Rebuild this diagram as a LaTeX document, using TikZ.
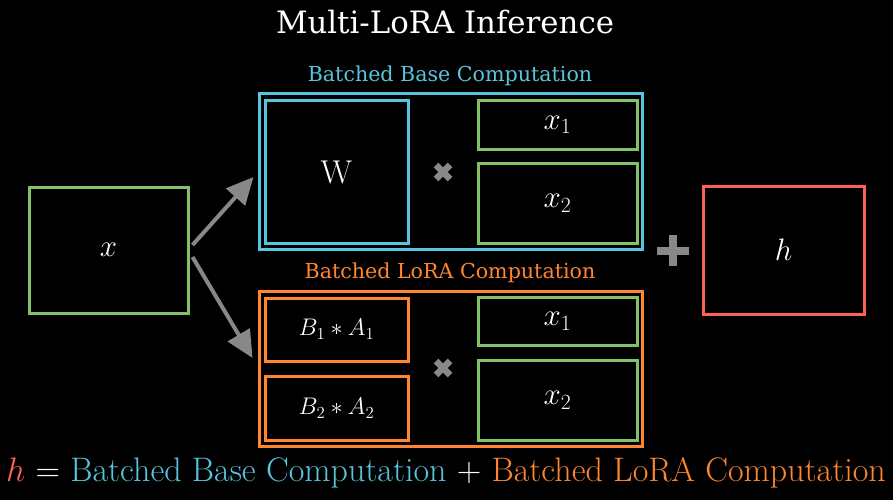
\RequirePackage{fix-cm}
\documentclass[tikz,border=0pt]{standalone}
\usepackage{fontspec}
\newfontfamily\labelfont{DejaVu Serif}
\usetikzlibrary{arrows.meta, calc}
\definecolor{mblue}{HTML}{58C4DD}
\definecolor{morange}{HTML}{FF862F}
\definecolor{mgreen}{HTML}{83C167}
\definecolor{mred}{HTML}{FC6255}
\definecolor{mgray}{HTML}{888888}
\tikzset{
  box/.style={rectangle, draw, line width=3pt, inner sep=0pt,
    text=white, font=\fontsize{31}{34}\selectfont},
  vecbox/.style={box, draw=mgreen, minimum width=159pt},
  loramat/.style={box, draw=morange, minimum width=143pt,
    font=\fontsize{24}{26}\selectfont},
  grouplabel/.style={font=\labelfont\fontsize{20.6}{24}\selectfont},
  flow/.style={-{Triangle[length=27pt, width=25pt]}, line width=4pt, color=mgray},
  opsign/.style={line width=6.5pt, color=mgray}
}
\begin{document}
\begin{tikzpicture}[x=1pt, y=-1pt]
  \fill[black] (0,0) rectangle (893,500);
  \useasboundingbox (0,0) rectangle (893,500);

  % Title
  \node[text=white, font=\labelfont\fontsize{30.8}{34}\selectfont] (title) at (445,22) {Multi-LoRA Inference};

  % Input and output
  \node[box, draw=mgreen, minimum width=159pt, minimum height=126pt] (xin) at (108.5,250) {$x$};
  \node[box, draw=mred, minimum width=161pt, minimum height=128pt] (hout) at (783.5,250) {$h$};

  % Batched base computation
  \node[box, draw=mblue, minimum width=383pt, minimum height=155pt] (base) at (450.5,171.5) {};
  \node[grouplabel, text=mblue] (baselabel) at (450,76) {Batched Base Computation};
  \node[box, draw=mblue, minimum width=143pt, minimum height=142pt, font=\fontsize{33}{36}\selectfont] (W) at (336.5,172) {W};
  \node[vecbox, minimum height=48pt] (bx1) at (557.5,125) {$x_1$};
  \node[vecbox, minimum height=80pt] (bx2) at (557.5,203) {$x_2$};

  % Batched LoRA computation
  \node[box, draw=morange, minimum width=383pt, minimum height=155pt] (lora) at (450.5,368.5) {};
  \node[grouplabel, text=morange] (loralabel) at (450,273) {Batched LoRA Computation};
  \node[loramat, minimum height=63pt] (ba1) at (336.5,329.5) {$B_1 * A_1$};
  \node[loramat, minimum height=64pt] (ba2) at (336.5,408) {$B_2 * A_2$};
  \node[vecbox, minimum height=48pt] (lx1) at (557.5,321) {$x_1$};
  \node[vecbox, minimum height=80pt] (lx2) at (557.5,400) {$x_2$};

  % Operators
  \draw[opsign] (436,165) -- (450,179) (436,179) -- (450,165);
  \draw[opsign] (436,361) -- (450,375) (436,375) -- (450,361);
  \draw[line width=8pt, color=mgray] (657,250.5) -- (689,250.5) (673,235) -- (673,266);

  % Arrows
  \draw[flow] ($(xin.east)+(3,-5)$) -- ($(base.west)+(-4,5.5)$);
  \draw[flow] ($(xin.east)+(3,7)$) -- ($(lora.west)+(-5,-10.5)$);

  % Equation
  \node[font=\fontsize{34}{38}\selectfont, text=white] (eq) at (446,473)
    {$\color{mred}h$ $=$ \textcolor{mblue}{Batched Base Computation} $+$ \textcolor{morange}{Batched LoRA Computation}};
\end{tikzpicture}
\end{document}
